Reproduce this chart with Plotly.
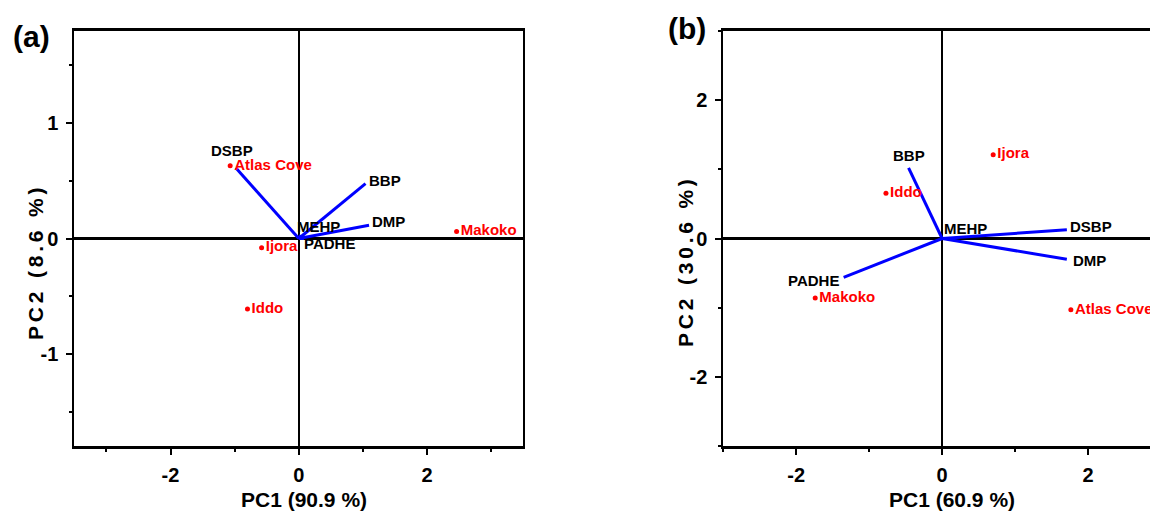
import plotly.graph_objects as go

# ---------------- data ----------------
# Panel (a)
a_samples = ["Atlas Cove", "Ijora", "Iddo", "Makoko"]
a_pc1 = [-1.07, -0.58, -0.80, 2.46]
a_pc2 = [0.63, -0.08, -0.61, 0.06]

a_vars = ["DSBP", "BBP", "DMP", "MEHP", "PADHE"]
a_load1 = [-0.98, 1.04, 1.095, 0.03, 0.08]
a_load2 = [0.61, 0.475, 0.115, 0.03, 0.0]

# Panel (b)
b_samples = ["Ijora", "Iddo", "Makoko", "Atlas Cove"]
b_pc1 = [0.70, -0.77, -1.74, 1.765]
b_pc2 = [1.21, 0.655, -0.86, -1.03]

b_vars = ["BBP", "DSBP", "DMP", "PADHE", "MEHP"]
b_load1 = [-0.46, 1.71, 1.71, -1.35, 0.01]
b_load2 = [1.02, 0.127, -0.30, -0.56, 0.02]

a_xtitle = "PC1 (90.9 %)"
a_ytitle = "PC2 (8.6 %)"
b_xtitle = "PC1 (60.9 %)"
b_ytitle = "PC2 (30.6 %)"

# label placement styles (anchor, x shift px, y shift px)
a_labstyle = [("center", -4, 18), ("left", 1, 3), ("left", 1, 4), ("left", -6, 9), ("left", -2, -5)]
b_labstyle = [("center", 0, 12), ("left", 1, 3), ("left", 4, -1), ("right", -3, -3), ("left", -1, 9)]

# ---------------- figure ----------------
W, H = 1150, 514
FONT = "Liberation Sans, Arial, sans-serif"
fig = go.Figure()
ann = []


def add_panel(xa, ya, l1, l2, names, styles, s1, s2, snames):
    xs, ys = [], []
    for u, v in zip(l1, l2):
        xs += [0, u, None]
        ys += [0, v, None]
    fig.add_trace(go.Scatter(x=xs, y=ys, mode="lines", xaxis=xa, yaxis=ya,
                             line=dict(color="#0000ff", width=3),
                             hoverinfo="skip", showlegend=False))
    for u, v, nm, (anc, dx, dy) in zip(l1, l2, names, styles):
        ann.append(dict(x=u, y=v, xref=xa, yref=ya, text=nm, showarrow=False,
                        xanchor=anc, yanchor="middle", xshift=dx, yshift=dy,
                        font=dict(family=FONT, size=15, color="black", weight="bold")))
    fig.add_trace(go.Scatter(x=s1, y=s2, mode="markers+text", text=snames,
                             textposition="middle right", xaxis=xa, yaxis=ya,
                             marker=dict(color="#ff0000", size=5),
                             textfont=dict(family=FONT, size=15, color="#ff0000", weight="bold"),
                             showlegend=False))


add_panel("x", "y", a_load1, a_load2, a_vars, a_labstyle, a_pc1, a_pc2, a_samples)
add_panel("x2", "y2", b_load1, b_load2, b_vars, b_labstyle, b_pc1, b_pc2, b_samples)

tickfont = dict(family=FONT, size=20, color="black", weight="bold")
common_x = dict(showgrid=False, showline=True, linecolor="black", linewidth=3,
                ticks="outside", ticklen=6, tickwidth=2, tickcolor="black",
                tickfont=tickfont, zeroline=True, zerolinecolor="black",
                zerolinewidth=2, ticklabelstandoff=3)
common_y = dict(showgrid=False, showline=True, linecolor="black", linewidth=2,
                ticks="outside", ticklen=6, tickwidth=2, tickcolor="black",
                tickfont=tickfont, zeroline=True, zerolinecolor="black",
                zerolinewidth=3, ticklabelstandoff=4)

ydom = [(H - 446.3) / H, (H - 30.7) / H]
fig.update_layout(
    width=W, height=H, margin=dict(l=0, r=0, t=0, b=0),
    plot_bgcolor="white", paper_bgcolor="white", showlegend=False,
    xaxis=dict(common_x, domain=[74.3 / W, 523.3 / W], range=[-3.5, 3.5],
               tickvals=[-2, 0, 2], ticktext=["-2", "0", "2"], mirror=True,
               minor=dict(ticks="outside", ticklen=3, tickwidth=2, dtick=1,
                          tick0=1, tickcolor="black"), anchor="y"),
    yaxis=dict(common_y, domain=ydom, range=[-1.8, 1.8],
               tickvals=[-1, 0, 1], ticktext=["-1", "0", "1"], mirror=True,
               minor=dict(ticks="outside", ticklen=3, tickwidth=2, dtick=0.5,
                          tick0=0.5, tickcolor="black"), anchor="x"),
    xaxis2=dict(common_x, domain=[723.3 / W, 1.0], range=[-3, 2.85],
                tickvals=[-2, 0, 2], ticktext=["-2", "0", "2"], mirror=True,
                minor=dict(ticks="outside", ticklen=3, tickwidth=2, dtick=1,
                           tick0=1, tickcolor="black"), anchor="y2"),
    yaxis2=dict(common_y, domain=ydom, range=[-3, 3],
                tickvals=[-2, 0, 2], ticktext=["-2", "0", "2"], mirror=False,
                minor=dict(ticks="outside", ticklen=3, tickwidth=2, dtick=1,
                           tick0=1, tickcolor="black"), anchor="x2"),
)

title_font = dict(family=FONT, size=21, color="black", weight="bold")
spaced = '<span style="letter-spacing:3.8px">{}</span>'
paper_ann = [
    dict(text="(a)", x=31 / W, y=(H - 37) / H, font=dict(family=FONT, size=30, color="black", weight="bold")),
    dict(text="(b)", x=687 / W, y=(H - 28) / H, font=dict(family=FONT, size=30, color="black", weight="bold")),
    dict(text=a_xtitle, x=304 / W, y=(H - 499) / H, font=title_font),
    dict(text=b_xtitle, x=952 / W, y=(H - 499) / H, font=title_font),
    dict(text=spaced.format(a_ytitle), x=35 / W, y=(H - 262) / H, font=title_font, textangle=-90),
    dict(text=spaced.format(b_ytitle), x=685 / W, y=(H - 261) / H, font=title_font, textangle=-90),
]
for a in paper_ann:
    a.update(xref="paper", yref="paper", showarrow=False, xanchor="center", yanchor="middle")
fig.update_layout(annotations=ann + paper_ann)

fig.write_html("out.html", config={"displayModeBar": False},
               post_script="document.body.style.margin='0';document.body.style.overflow='hidden';")
